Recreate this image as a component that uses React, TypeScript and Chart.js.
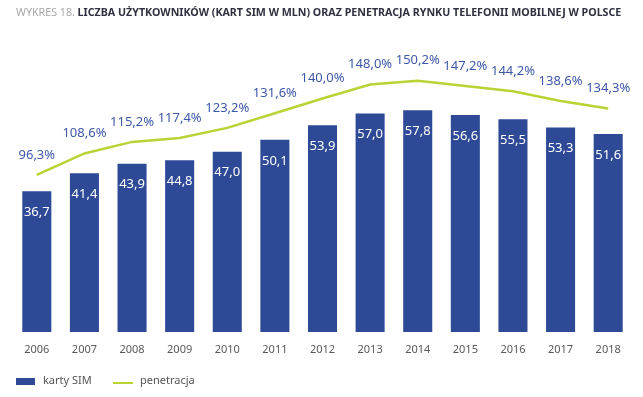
import React, { useEffect, useRef } from "react";
import { Chart, registerables } from "chart.js";

Chart.register(...registerables);

const years = ["2006", "2007", "2008", "2009", "2010", "2011", "2012", "2013", "2014", "2015", "2016", "2017", "2018"];
const simCards = [36.7, 41.4, 43.9, 44.8, 47.0, 50.1, 53.9, 57.0, 57.8, 56.6, 55.5, 53.3, 51.6];
const penetration = [96.3, 108.6, 115.2, 117.4, 123.2, 131.6, 140.0, 148.0, 150.2, 147.2, 144.2, 138.6, 134.3];

const titlePrefix = "WYKRES 18. ";
const titleMain = "LICZBA UŻYTKOWNIKÓW (KART SIM W MLN) ORAZ PENETRACJA RYNKU TELEFONII MOBILNEJ W POLSCE";
const legendBar = "karty SIM";
const legendLine = "penetracja";

const BAR_COLOR = "#2e4a97";
const LINE_COLOR = "#b7d335";
const PCT_COLOR = "#3d58a8";
const FONT = "'Noto Sans', 'Open Sans', sans-serif";

const fmt = (v: number) => v.toFixed(1).replace(".", ",");

const overlayPlugin = {
  id: "overlay",
  afterDatasetsDraw(chart: any) {
    const ctx = chart.ctx as CanvasRenderingContext2D;
    ctx.save();
    // bar value labels
    const barMeta = chart.getDatasetMeta(0);
    ctx.font = `13px ${FONT}`;
    ctx.fillStyle = "#ffffff";
    ctx.textAlign = "center";
    ctx.textBaseline = "middle";
    barMeta.data.forEach((el: any, i: number) => {
      ctx.fillText(fmt(simCards[i]), el.x, el.y + 21);
    });
    // line value labels
    const lineMeta = chart.getDatasetMeta(1);
    ctx.fillStyle = PCT_COLOR;
    lineMeta.data.forEach((el: any, i: number) => {
      ctx.fillText(fmt(penetration[i]) + "%", el.x, el.y - 20);
    });
    ctx.restore();
  },
  afterDraw(chart: any) {
    const ctx = chart.ctx as CanvasRenderingContext2D;
    ctx.save();
    // title
    const startX = 16;
    const endX = 622;
    let size = 12;
    ctx.font = `${size}px ${FONT}`;
    let w1 = ctx.measureText(titlePrefix).width;
    ctx.font = `bold ${size}px ${FONT}`;
    let w2 = ctx.measureText(titleMain).width;
    size = (size * (endX - startX)) / (w1 + w2);
    ctx.textBaseline = "middle";
    ctx.textAlign = "left";
    ctx.font = `${size}px ${FONT}`;
    w1 = ctx.measureText(titlePrefix).width;
    ctx.fillStyle = "#a8a8a8";
    ctx.fillText(titlePrefix, startX, 13);
    ctx.font = `bold ${size}px ${FONT}`;
    ctx.fillStyle = "#2f3140";
    ctx.fillText(titleMain, startX + w1, 13);
    // legend
    ctx.fillStyle = BAR_COLOR;
    ctx.fillRect(16, 378, 19, 7);
    ctx.font = `11px ${FONT}`;
    ctx.fillStyle = "#555555";
    ctx.fillText(legendBar, 43, 381);
    ctx.strokeStyle = LINE_COLOR;
    ctx.lineWidth = 2;
    ctx.beginPath();
    ctx.moveTo(113, 383);
    ctx.lineTo(133, 383);
    ctx.stroke();
    ctx.fillStyle = "#555555";
    ctx.fillText(legendLine, 140, 381);
    ctx.restore();
  },
};

export default function App() {
  const ref = useRef<HTMLCanvasElement | null>(null);
  useEffect(() => {
    if (!ref.current) return;
    const chart = new Chart(ref.current, {
      type: "bar",
      data: {
        labels: years,
        datasets: [
          {
            type: "bar",
            label: legendBar,
            data: simCards,
            backgroundColor: BAR_COLOR,
            barPercentage: 0.61,
            categoryPercentage: 1,
            yAxisID: "y",
            order: 2,
          },
          {
            type: "line",
            label: legendLine,
            data: penetration,
            borderColor: LINE_COLOR,
            borderWidth: 2.5,
            pointRadius: 0,
            tension: 0,
            yAxisID: "y2",
            order: 1,
          } as any,
        ],
      },
      options: {
        responsive: false,
        animation: false,
        layout: { padding: { top: 40, left: 13, right: 11, bottom: 35 } },
        plugins: {
          legend: { display: false },
          title: { display: false },
          tooltip: { enabled: false },
        },
        scales: {
          x: {
            grid: { display: false, drawTicks: false },
            border: { display: false },
            ticks: {
              color: "#595959",
              font: { family: FONT, size: 11 },
              padding: 11,
            },
            afterFit: (scale: any) => {
              scale.height = 30;
            },
          },
          y: {
            display: false,
            min: 0,
            max: 76.14,
          },
          y2: {
            display: false,
            min: 6.571,
            max: 173.43,
          },
        },
      },
      plugins: [overlayPlugin],
    });
    return () => chart.destroy();
  }, []);
  return (
    <div style={{ position: "fixed", left: 0, top: 0, width: 643, height: 397, background: "#fff" }}>
      <canvas ref={ref} width={643} height={397} />
    </div>
  );
}
